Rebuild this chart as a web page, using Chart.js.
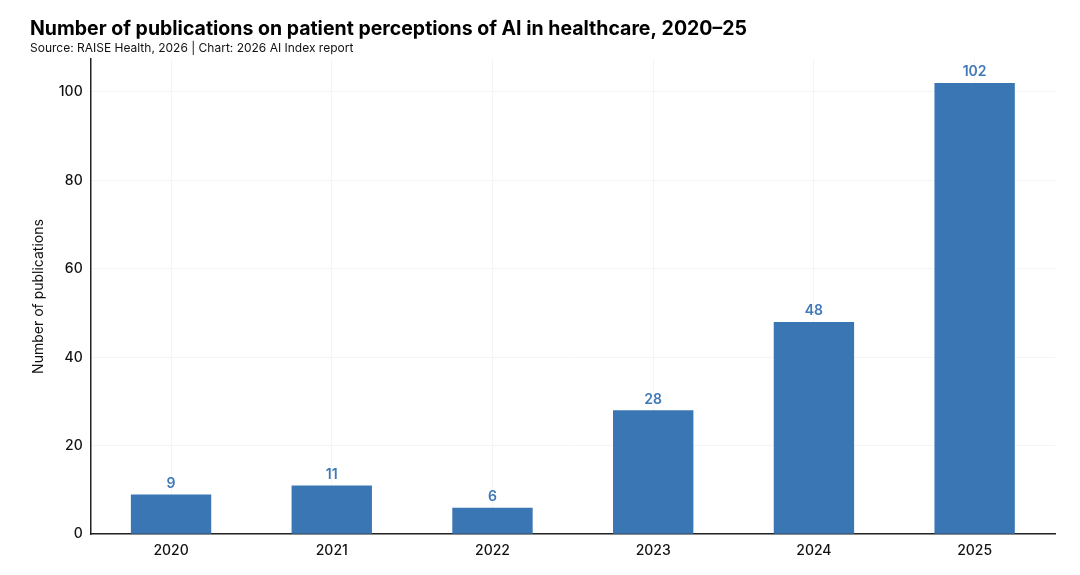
<!DOCTYPE html>
<html lang="en">
<head>
    <meta charset="UTF-8">
    <title>Publications on patient perceptions of AI</title>
    <script src="https://cdn.jsdelivr.net/npm/chart.js"></script>
    <style>
        body {
            margin: 0;
            background: white;
            font-family: Inter, "Noto Sans", sans-serif;
        }
        .wrap {
            width: 1080px;
            height: 575px;
        }
    </style>
</head>
<body>
    <div class="wrap">
        <canvas id="pubChart" width="1080" height="575"></canvas>
    </div>

    <script>
        const years = ['2020', '2021', '2022', '2023', '2024', '2025'];
        const publications = [9, 11, 6, 28, 48, 102];
        const yTicks = [0, 20, 40, 60, 80, 100];

        const barBlue = '#3a76b3';
        const labelBlue = '#3f78b7';

        // value labels above each bar
        const barLabels = {
            id: 'barLabels',
            afterDatasetsDraw(chart) {
                const ctx = chart.ctx;
                const meta = chart.getDatasetMeta(0);
                ctx.save();
                ctx.fillStyle = labelBlue;
                ctx.font = '600 14px Inter, sans-serif';
                ctx.textAlign = 'center';
                ctx.textBaseline = 'bottom';
                meta.data.forEach((bar, i) => {
                    ctx.fillText(publications[i], bar.x, bar.y - 4);
                });
                ctx.restore();
            }
        };

        const ctx = document.getElementById('pubChart').getContext('2d');
        new Chart(ctx, {
            type: 'bar',
            data: {
                labels: years,
                datasets: [{
                    data: publications,
                    backgroundColor: barBlue,
                    borderWidth: 0,
                    barPercentage: 0.5,
                    categoryPercentage: 1.0
                }]
            },
            options: {
                responsive: false,
                animation: false,
                layout: {
                    padding: { left: 30, right: 25, top: 17, bottom: 8 }
                },
                plugins: {
                    legend: { display: false },
                    tooltip: { enabled: false },
                    title: {
                        display: true,
                        align: 'start',
                        text: 'Number of publications on patient perceptions of AI in healthcare, 2020–25',
                        color: '#000',
                        font: { family: 'Inter', size: 19.5, weight: '700' },
                        padding: { top: 0, bottom: 1 }
                    },
                    subtitle: {
                        display: true,
                        align: 'start',
                        text: 'Source: RAISE Health, 2026 | Chart: 2026 AI Index report',
                        color: '#111',
                        font: { family: 'Inter', size: 12, weight: '400' },
                        padding: { top: 0, bottom: 3 }
                    }
                },
                scales: {
                    x: {
                        grid: {
                            offset: false,
                            color: '#f4f4f4',
                            drawTicks: false
                        },
                        border: { color: '#222', width: 1.5 },
                        ticks: {
                            color: '#111',
                            padding: 8,
                            font: { family: 'Inter', size: 14, weight: '500' }
                        }
                    },
                    y: {
                        min: 0,
                        max: 107.5,
                        grid: { color: '#f4f4f4', drawTicks: false },
                        border: { color: '#222', width: 1.5 },
                        afterBuildTicks(axis) {
                            axis.ticks = yTicks.map(v => ({ value: v }));
                        },
                        ticks: {
                            color: '#111',
                            padding: 8,
                            font: { family: 'Inter', size: 14, weight: '500' }
                        },
                        title: {
                            display: true,
                            text: 'Number of publications',
                            color: '#111',
                            font: { family: 'Inter', size: 14, weight: '400' },
                            padding: { top: 0, bottom: 4 }
                        }
                    }
                }
            },
            plugins: [barLabels]
        });
    </script>
</body>
</html>
